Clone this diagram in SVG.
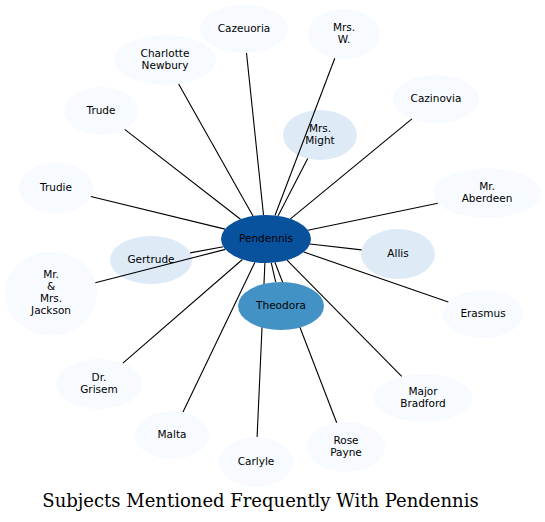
<svg xmlns="http://www.w3.org/2000/svg" width="545" height="522" viewBox="0 0 545 522">
<style>
.n text{font-family:"DejaVu Sans",sans-serif;font-size:10.5px;text-anchor:middle;fill:#000}
.l0{fill:#f7fbff}
.l1{fill:#deebf7}
.l5{fill:#4292c6}
.l7{fill:#08519c}
#edges line{stroke:#000;stroke-width:1.1}
.title{font-family:"DejaVu Serif",serif;font-size:18px;text-anchor:middle;fill:#000}
</style>
<rect width="545" height="522" fill="#fff"/>
<g id="n-cazeuoria" class="n"><ellipse class="l0" cx="244" cy="29" rx="44" ry="24"/><text x="244" y="32">Cazeuoria</text></g>
<g id="n-charlotte" class="n"><ellipse class="l0" cx="165" cy="60" rx="51" ry="25"/><text x="165" y="57">Charlotte</text><text x="165" y="69">Newbury</text></g>
<g id="n-mrsw" class="n"><ellipse class="l0" cx="344" cy="34" rx="36" ry="25"/><text x="344" y="31">Mrs.</text><text x="344" y="43">W.</text></g>
<g id="n-mrsmight" class="n"><ellipse class="l1" cx="320" cy="135" rx="37" ry="25"/><text x="320" y="132">Mrs.</text><text x="320" y="144">Might</text></g>
<g id="n-cazinovia" class="n"><ellipse class="l0" cx="436" cy="99" rx="43" ry="24"/><text x="436" y="102">Cazinovia</text></g>
<g id="n-aberdeen" class="n"><ellipse class="l0" cx="487" cy="193" rx="54" ry="25"/><text x="487" y="190">Mr.</text><text x="487" y="202">Aberdeen</text></g>
<g id="n-allis" class="n"><ellipse class="l1" cx="398" cy="254" rx="37" ry="25"/><text x="398" y="257">Allis</text></g>
<g id="n-erasmus" class="n"><ellipse class="l0" cx="483" cy="314" rx="40" ry="24"/><text x="483" y="317">Erasmus</text></g>
<g id="n-bradford" class="n"><ellipse class="l0" cx="423" cy="398" rx="49" ry="24"/><text x="423" y="395">Major</text><text x="423" y="407">Bradford</text></g>
<g id="n-rosepayne" class="n"><ellipse class="l0" cx="346" cy="447" rx="39" ry="25"/><text x="346" y="444">Rose</text><text x="346" y="456">Payne</text></g>
<g id="n-carlyle" class="n"><ellipse class="l0" cx="256" cy="462" rx="37" ry="25"/><text x="256" y="465">Carlyle</text></g>
<g id="n-malta" class="n"><ellipse class="l0" cx="172" cy="435" rx="37" ry="24"/><text x="172" y="438">Malta</text></g>
<g id="n-grisem" class="n"><ellipse class="l0" cx="99" cy="384" rx="43" ry="25"/><text x="99" y="381">Dr.</text><text x="99" y="393">Grisem</text></g>
<g id="n-jackson" class="n"><ellipse class="l0" cx="51" cy="293.5" rx="46" ry="42"/><text x="51" y="278">Mr.</text><text x="51" y="290">&amp;</text><text x="51" y="302">Mrs.</text><text x="51" y="314">Jackson</text></g>
<g id="n-gertrude" class="n"><ellipse class="l1" cx="151" cy="260" rx="41" ry="24"/><text x="151" y="263">Gertrude</text></g>
<g id="n-trudie" class="n"><ellipse class="l0" cx="56" cy="188" rx="37" ry="25"/><text x="56" y="191">Trudie</text></g>
<g id="n-trude" class="n"><ellipse class="l0" cx="101" cy="111" rx="37" ry="24"/><text x="101" y="114">Trude</text></g>
<g id="edges">
<line x1="263.5" y1="215" x2="246.5" y2="53"/>
<line x1="253" y1="216" x2="178.6" y2="84.1"/>
<line x1="275" y1="215.5" x2="334.8" y2="58.2"/>
<line x1="278" y1="215.9" x2="307.7" y2="158.6"/>
<line x1="290.5" y1="218.9" x2="411.9" y2="118.9"/>
<line x1="307.9" y1="230.3" x2="437.8" y2="203.2"/>
<line x1="310" y1="244" x2="361.5" y2="249.9"/>
<line x1="303.8" y1="252" x2="448.3" y2="302"/>
<line x1="287" y1="260.2" x2="401.7" y2="376.4"/>
<line x1="275" y1="262.5" x2="336.7" y2="422.7"/>
<line x1="271.3" y1="262.8" x2="275.7" y2="282.2"/>
<line x1="264.9" y1="263" x2="257.1" y2="437"/>
<line x1="254.9" y1="262.2" x2="183" y2="412.1"/>
<line x1="242.4" y1="259.5" x2="122.9" y2="363.2"/>
<line x1="225.4" y1="249.4" x2="95.3" y2="282.7"/>
<line x1="223.4" y1="246.8" x2="190.1" y2="252.9"/>
<line x1="225" y1="229.1" x2="90.8" y2="196.5"/>
<line x1="240.5" y1="219.2" x2="124.7" y2="129.4"/>
</g>
<g id="n-theodora" class="n"><ellipse class="l5" cx="281" cy="306" rx="43" ry="24"/><text x="281" y="309">Theodora</text></g>
<g id="n-pendennis" class="n"><ellipse class="l7" cx="266" cy="239" rx="45" ry="24"/><text x="266" y="242">Pendennis</text></g>
<text class="title" x="260.5" y="507">Subjects Mentioned Frequently With Pendennis</text>
</svg>
